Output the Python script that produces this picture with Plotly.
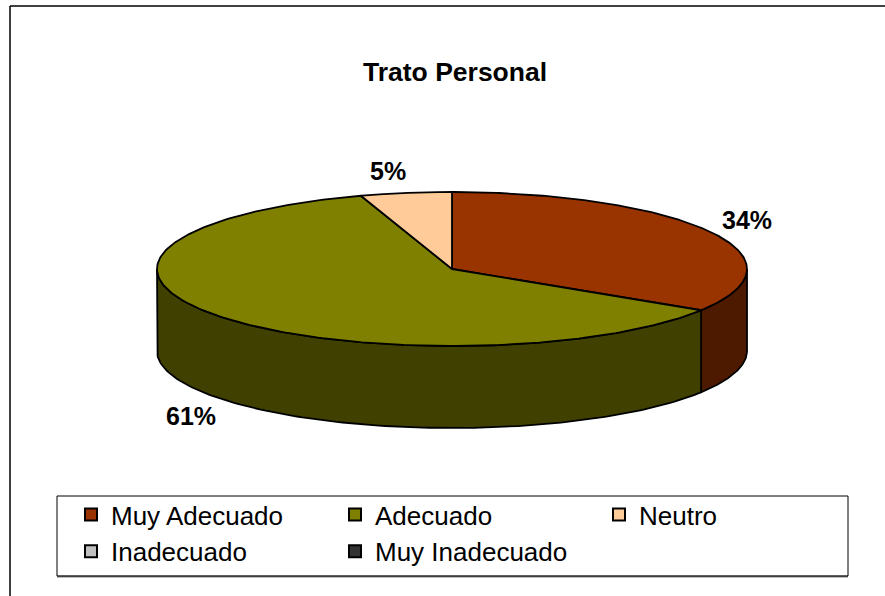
import numpy as np
import plotly.graph_objects as go

categories = ["Muy Adecuado", "Adecuado", "Neutro", "Inadecuado", "Muy Inadecuado"]
values = [34, 61, 5, 0, 0]
top_colors = ["#993300", "#808000", "#FFCC99", "#C0C0C0", "#333333"]
wall_colors = ["#4D1A00", "#404000", "#806650", "#606060", "#1A1A1A"]

W, H = 885, 596
CX, CY, RX, RY, DEPTH = 452, 269, 295, 77, 82
FONT = "Liberation Sans, Arial, sans-serif"


def pt(deg, dy=0.0):
    a = np.radians(deg)
    return CX + RX * np.sin(a), CY - RY * np.cos(a) + dy


fig = go.Figure()
total = sum(values)
edges = np.concatenate([[0], np.cumsum(values) / total * 360])

# side walls: only the front half of the drum (90 to 270 degrees clockwise from top)
for i, v in enumerate(values):
    lo, hi = max(edges[i], 90), min(edges[i + 1], 270)
    if v == 0 or lo >= hi:
        continue
    t = np.linspace(lo, hi, 120)
    xa, ya = pt(t)
    xb, yb = pt(t[::-1], DEPTH)
    fig.add_trace(go.Scatter(
        x=np.r_[xa, xb, xa[0]], y=np.r_[ya, yb, ya[0]], mode="lines", fill="toself",
        fillcolor=wall_colors[i], line=dict(color="black", width=1.8),
        showlegend=False, hoverinfo="skip"))

# top faces
for i, v in enumerate(values):
    if v == 0:
        continue
    t = np.linspace(edges[i], edges[i + 1], 240)
    xa, ya = pt(t)
    fig.add_trace(go.Scatter(
        x=np.r_[CX, xa, CX], y=np.r_[CY, ya, CY], mode="lines", fill="toself",
        fillcolor=top_colors[i], line=dict(color="black", width=1.8),
        showlegend=False, hoverinfo="skip"))

# legend keys
for name, col in zip(categories, top_colors):
    fig.add_trace(go.Scatter(
        x=[None], y=[None], mode="markers", name=name,
        marker=dict(symbol="square", size=14, color=col, line=dict(color="black", width=1.5))))

# percentage labels
label_pos = {0: (747, 220), 1: (191, 416), 2: (388, 171)}
for i, (lx, ly) in label_pos.items():
    fig.add_annotation(x=lx, y=ly, text=f"<b>{values[i]}%</b>", showarrow=False,
                       font=dict(family=FONT, size=25, color="black"))

fig.add_annotation(x=455, y=72, text="<b>Trato Personal</b>", showarrow=False,
                   font=dict(family=FONT, size=26.5, color="black"))

# chart frame (right and bottom sides fall outside the picture)
fig.add_shape(type="line", x0=10, x1=W, y0=6, y1=6, line=dict(color="black", width=1.5))
fig.add_shape(type="line", x0=10, x1=10, y0=6, y1=H, line=dict(color="black", width=1.5))

# legend box
fig.add_shape(type="line", x0=57, x1=848, y0=576.5, y1=576.5, line=dict(color="#808080", width=2))
fig.add_shape(type="rect", x0=57, x1=848, y0=496, y1=576, line=dict(color="black", width=1))

fig.update_layout(
    width=W, height=H, margin=dict(l=0, r=0, t=0, b=0, autoexpand=False),
    paper_bgcolor="white", plot_bgcolor="white",
    xaxis=dict(range=[0, W], visible=False, fixedrange=True),
    yaxis=dict(range=[H, 0], visible=False, fixedrange=True),
    legend=dict(
        orientation="h", x=71 / W, y=1 - 491 / H, xanchor="left", yanchor="top",
        entrywidthmode="pixels", entrywidth=219, itemsizing="constant",
        borderwidth=0, bgcolor="rgba(0,0,0,0)",
        font=dict(family=FONT, size=26, color="black"), traceorder="normal"),
    showlegend=True,
)
fig.write_html("out.html", config={"displayModeBar": False},
               post_script="document.body.style.margin='0';")
